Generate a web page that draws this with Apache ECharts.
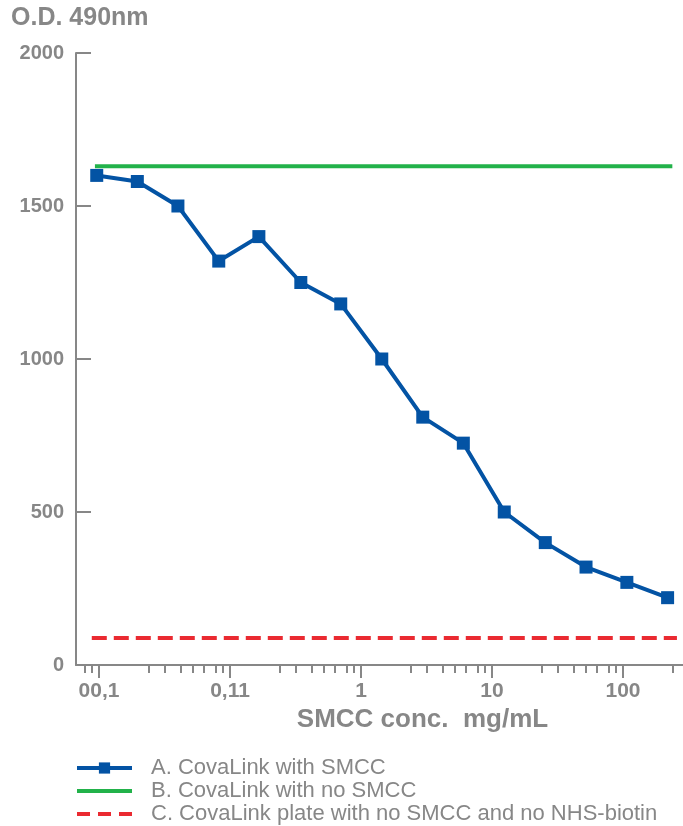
<!DOCTYPE html>
<html>
<head>
<meta charset="utf-8">
<script src="https://cdn.jsdelivr.net/npm/echarts@6/dist/echarts.min.js"></script>
<style>
  html, body { margin: 0; padding: 0; background: #fff; }
  #chart { width: 683px; height: 826px; }
</style>
</head>
<body>
<div id="chart"></div>
<script>
// SMCC concentration (mg/mL) and O.D. 490nm
var concA = [0.0096, 0.0196, 0.040, 0.082, 0.166, 0.347, 0.70, 1.44, 2.96, 6.04, 12.4, 25.5, 52.2, 107, 219];
var odA = [1600, 1580, 1500, 1320, 1400, 1250, 1180, 1000, 810, 725, 500, 400, 320, 270, 220];
var concB = [0.0093, 238];
var odB = [1630, 1630];
var concC = [0.0088, 258];
var odC = [88, 88];

var seriesNames = [
  'A. CovaLink with SMCC',
  'B. CovaLink with no SMCC',
  'C. CovaLink plate with no SMCC and no NHS-biotin'
];
var majorTicks = [0.01, 0.1, 1, 10, 100];
var tickLabels = ['00,1', '0,11', '1', '10', '100'];
// where the small ticks sit inside each decade (fraction of a decade)
var minorSteps = [0.382, 0.504, 0.626, 0.718, 0.802, 0.893, 0.947];

var xMin = -2.176, xMax = 2.458;
var gray = '#878787';
var font = '"Liberation Sans", Arial, Helvetica, sans-serif';
var blue = '#0353a4', green = '#22b24a', red = '#ea2a31';

function pairs(xs, ys) {
  var out = [];
  for (var i = 0; i < xs.length; i++) out.push([Math.log10(xs[i]), ys[i]]);
  return out;
}

var majorVals = majorTicks.map(function (v) { return Math.log10(v); });
var minorVals = [];
for (var d = -3; d <= 2; d++) {
  minorSteps.forEach(function (s) {
    var v = d + s;
    if (v > xMin && v < xMax) minorVals.push(v);
  });
}

var chart = echarts.init(document.getElementById('chart'));
var gridBox = { left: 76, right: 0, top: 53, bottom: 161 };

var option = {
  animation: false,
  title: {
    text: 'O.D. 490nm',
    left: 11, top: 6, padding: 0,
    textStyle: { color: gray, fontFamily: font, fontWeight: 'bold', fontSize: 25 }
  },
  grid: [
    Object.assign({}, gridBox),
    Object.assign({}, gridBox)
  ],
  legend: {
    orient: 'vertical',
    left: 75, top: 757, height: 100, padding: 0,
    itemWidth: 55, itemHeight: 14, itemGap: 1,
    data: [
      { name: seriesNames[0], lineStyle: { width: 4 } },
      { name: seriesNames[1], itemStyle: { opacity: 0 }, lineStyle: { width: 4 } },
      { name: seriesNames[2], itemStyle: { opacity: 0 }, lineStyle: { width: 4, type: [13, 8] } }
    ],
    textStyle: { color: gray, fontFamily: font, fontSize: 22, lineHeight: 22, padding: [0, 0, 0, 14] }
  },
  xAxis: [
    {
      type: 'value', gridIndex: 0, min: xMin, max: xMax,
      name: 'SMCC conc.  mg/mL', nameLocation: 'middle', nameGap: 37,
      nameTextStyle: { color: gray, fontFamily: font, fontWeight: 'bold', fontSize: 26, padding: [0, 0, 0, 86] },
      axisLine: { onZero: false, lineStyle: { color: gray, width: 2 } },
      axisTick: { customValues: majorVals, length: 13, lineStyle: { color: gray, width: 2 } },
      axisLabel: {
        customValues: majorVals, margin: 16,
        color: gray, fontFamily: font, fontWeight: 'bold', fontSize: 21,
        formatter: function (v) {
          for (var i = 0; i < majorVals.length; i++) {
            if (Math.abs(majorVals[i] - v) < 1e-6) return tickLabels[i];
          }
          return '';
        }
      },
      splitLine: { show: false }
    },
    {
      type: 'value', gridIndex: 1, min: xMin, max: xMax,
      axisLine: { show: false, onZero: false },
      axisTick: { customValues: minorVals, length: 8, lineStyle: { color: gray, width: 2 } },
      axisLabel: { show: false },
      splitLine: { show: false }
    }
  ],
  yAxis: [
    {
      type: 'value', gridIndex: 0, min: 0, max: 2000, interval: 500,
      axisLine: { show: true, onZero: false, lineStyle: { color: gray, width: 2 } },
      axisTick: { show: true, inside: true, length: 15, lineStyle: { color: gray, width: 2 } },
      axisLabel: {
        margin: 12, color: gray, fontFamily: font, fontWeight: 'bold', fontSize: 20,
        formatter: function (v) { return String(v); }
      },
      splitLine: { show: false }
    },
    {
      type: 'value', gridIndex: 1, min: 0, max: 2000, show: false
    }
  ],
  series: [
    {
      name: seriesNames[0], type: 'line',
      data: pairs(concA, odA),
      symbol: 'rect', symbolSize: 13,
      itemStyle: { color: blue },
      lineStyle: { color: blue, width: 4 }
    },
    {
      name: seriesNames[1], type: 'line',
      data: pairs(concB, odB),
      symbol: 'none',
      itemStyle: { color: green },
      lineStyle: { color: green, width: 4 }
    },
    {
      name: seriesNames[2], type: 'line',
      data: pairs(concC, odC),
      symbol: 'none',
      itemStyle: { color: red },
      lineStyle: { color: red, width: 4, type: [15, 7] }
    }
  ]
};
chart.setOption(option);
</script>
</body>
</html>
